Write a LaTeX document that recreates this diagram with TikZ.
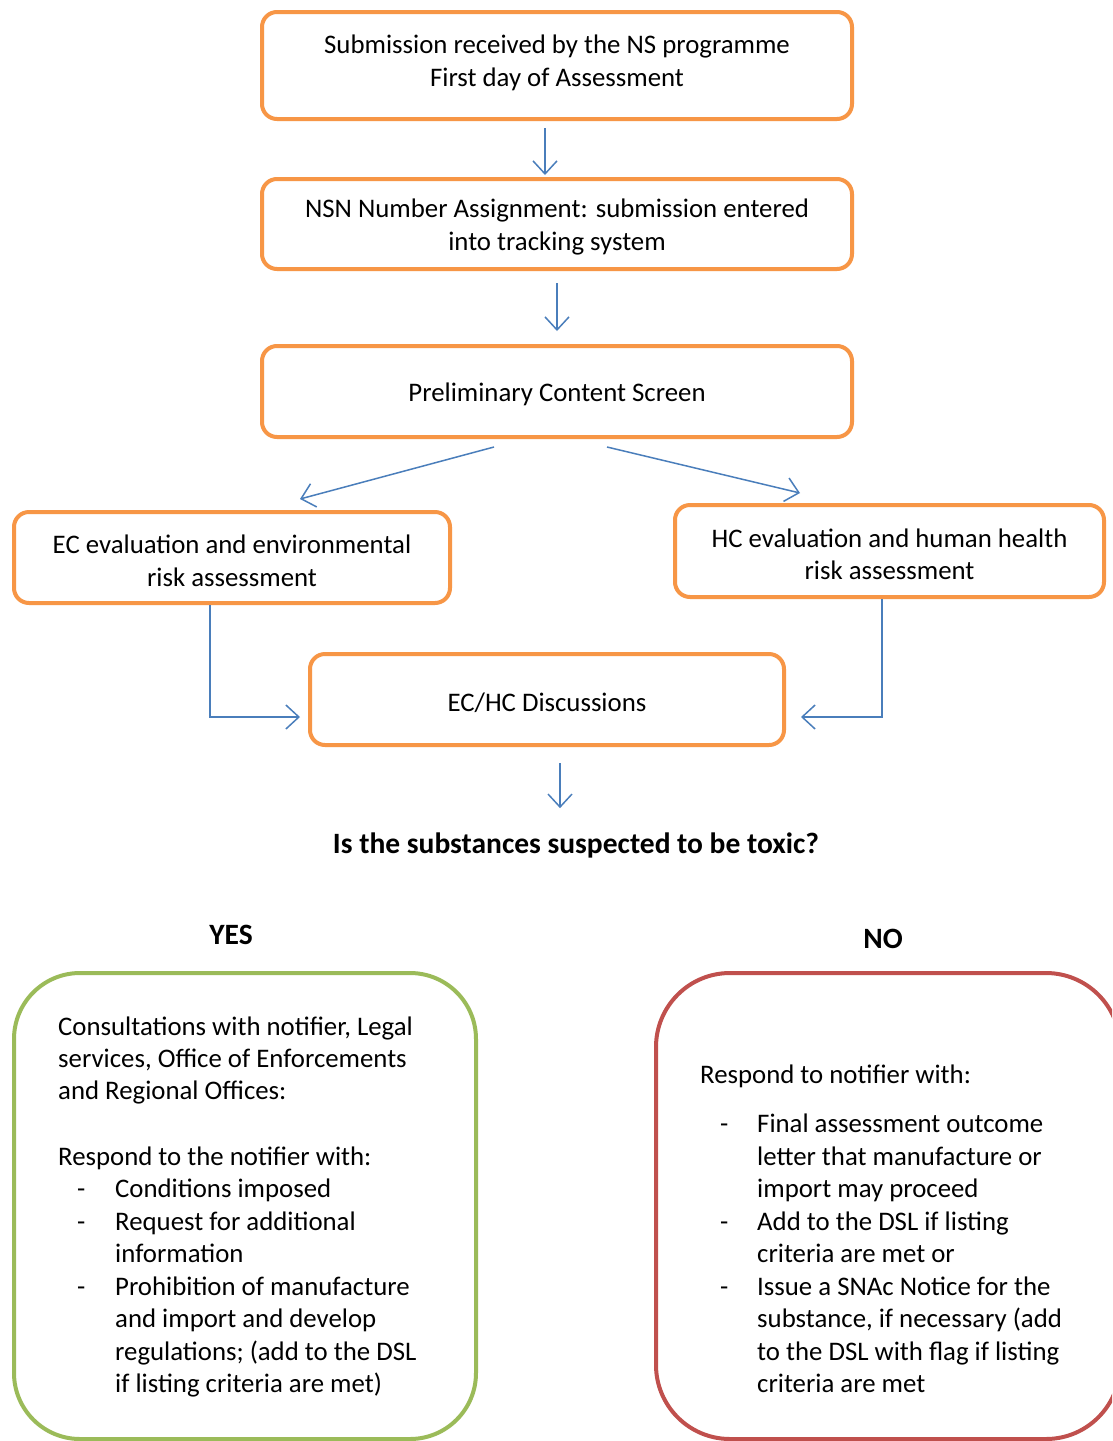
\documentclass[tikz,border=0pt]{standalone}
\usepackage{fontspec}
\setmainfont{Carlito}
\usetikzlibrary{arrows.meta}
\definecolor{orng}{HTML}{F79646}
\definecolor{arrowblue}{HTML}{4A7EBB}
\definecolor{grn}{HTML}{9BBB59}
\definecolor{rd}{HTML}{C0504D}
\newcommand\lowstrut{\rule{0pt}{25pt}}
\newcommand\highstrut{\rule[-9.5pt]{0pt}{0pt}}
\begin{document}
\begin{tikzpicture}[x=1pt,y=-1pt,
  every node/.style={font=\fontsize{26.8}{32.5}\selectfont, inner sep=0pt},
  obox/.style={draw=orng, line width=4pt, rounded corners=15pt, align=center},
  arr/.style={draw=arrowblue, line width=1.5pt, -{Straight Barb[length=13pt,width=24pt]}},
  ln/.style={anchor=base west},
  hd/.style={font=\fontsize{29.5}{35}\selectfont\bfseries}
]
\useasboundingbox (0,0) rectangle (1112,1441);
\clip (0,0) rectangle (1112,1441);
\fill[white] (0,0) rectangle (1112,1441);

% flow boxes
\node[obox, minimum width=590pt, minimum height=107pt] (b1) at (557,65.5)
  {Submission received by the NS programme\\First day of Assessment\highstrut};
\node[obox, minimum width=590pt, minimum height=90pt] (b2) at (557,224)
  {\lowstrut NSN Number Assignment: submission entered\\into tracking system};
\node[obox, minimum width=590pt, minimum height=91pt] (b3) at (557,391.5)
  {\lowstrut Preliminary Content Screen};
\node[obox, minimum width=436pt, minimum height=91pt] (ec) at (232,557.5)
  {\lowstrut EC evaluation and environmental\\risk assessment};
\node[obox, minimum width=429pt, minimum height=92pt] (hc) at (889.5,551)
  {\lowstrut HC evaluation and human health\\risk assessment};
\node[obox, minimum width=474pt, minimum height=91pt] (disc) at (547,699.5)
  {\lowstrut EC/HC Discussions};

\node[hd] (q) at (576,845) {Is the substances suspected to be toxic?};
\node[hd] (yes) at (231,935) {YES};
\node[hd] (no) at (883,939) {NO};

% connectors
\draw[arr] ([xshift=-12pt,yshift=-7pt]b1.south) -- ([xshift=-12pt,yshift=2pt]b2.north);
\draw[arr] ([yshift=-12pt]b2.south) -- ([yshift=13pt]b3.north);
\draw[arr] ([xshift=-63pt,yshift=-8pt]b3.south) -- ([xshift=68pt,yshift=11pt]ec.north);
\draw[arr] ([xshift=50pt,yshift=-8pt]b3.south) -- ([xshift=-89.5pt,yshift=10pt]hc.north);
\draw[arr] ([xshift=-22pt]ec.south) |- ([xshift=-8pt,yshift=-17.5pt]disc.west);
\draw[arr] ([xshift=-7.5pt]hc.south) |- ([xshift=15pt,yshift=-17.5pt]disc.east);
\draw[arr] ([xshift=13pt,yshift=-16pt]disc.south) -- ([xshift=-16pt,yshift=24pt]q.north);

% outcome boxes
\draw[grn, line width=4pt, rounded corners=66pt] (14,973) rectangle (476,1439);
\draw[rd, line width=4pt, rounded corners=74pt] (656,973) rectangle (1120,1439);

% YES text
\node[ln] (g1) at (58,1035) {Consultations with notifier, Legal};
\node[ln] (g2) at (58,1067) {services, Office of Enforcements};
\node[ln] (g3) at (58,1099) {and Regional Offices:};
\node[ln] (g4) at (58,1165) {Respond to the notifier with:};
\node[ln] (gd1) at (77,1197) {-};
\node[ln] (g5) at (115,1197) {Conditions imposed};
\node[ln] (gd2) at (77,1230) {-};
\node[ln] (g6) at (115,1230) {Request for additional};
\node[ln] (g7) at (115,1262) {information};
\node[ln] (gd3) at (77,1295) {-};
\node[ln] (g8) at (115,1295) {Prohibition of manufacture};
\node[ln] (g9) at (115,1327) {and import and develop};
\node[ln] (g10) at (115,1360) {regulations; (add to the DSL};
\node[ln] (g11) at (115,1392) {if listing criteria are met)};

% NO text
\node[ln] (r1) at (700,1083) {Respond to notifier with:};
\node[ln] (rd1) at (720,1132) {-};
\node[ln] (r2) at (757,1132) {Final assessment outcome};
\node[ln] (r3) at (757,1165) {letter that manufacture or};
\node[ln] (r4) at (757,1197) {import may proceed};
\node[ln] (rd2) at (720,1230) {-};
\node[ln] (r5) at (757,1230) {Add to the DSL if listing};
\node[ln] (r6) at (757,1262) {criteria are met or};
\node[ln] (rd3) at (720,1295) {-};
\node[ln] (r7) at (757,1295) {Issue a SNAc Notice for the};
\node[ln] (r8) at (757,1327) {substance, if necessary (add};
\node[ln] (r9) at (757,1360) {to the DSL with flag if listing};
\node[ln] (r10) at (757,1392) {criteria are met};
\end{tikzpicture}
\end{document}
